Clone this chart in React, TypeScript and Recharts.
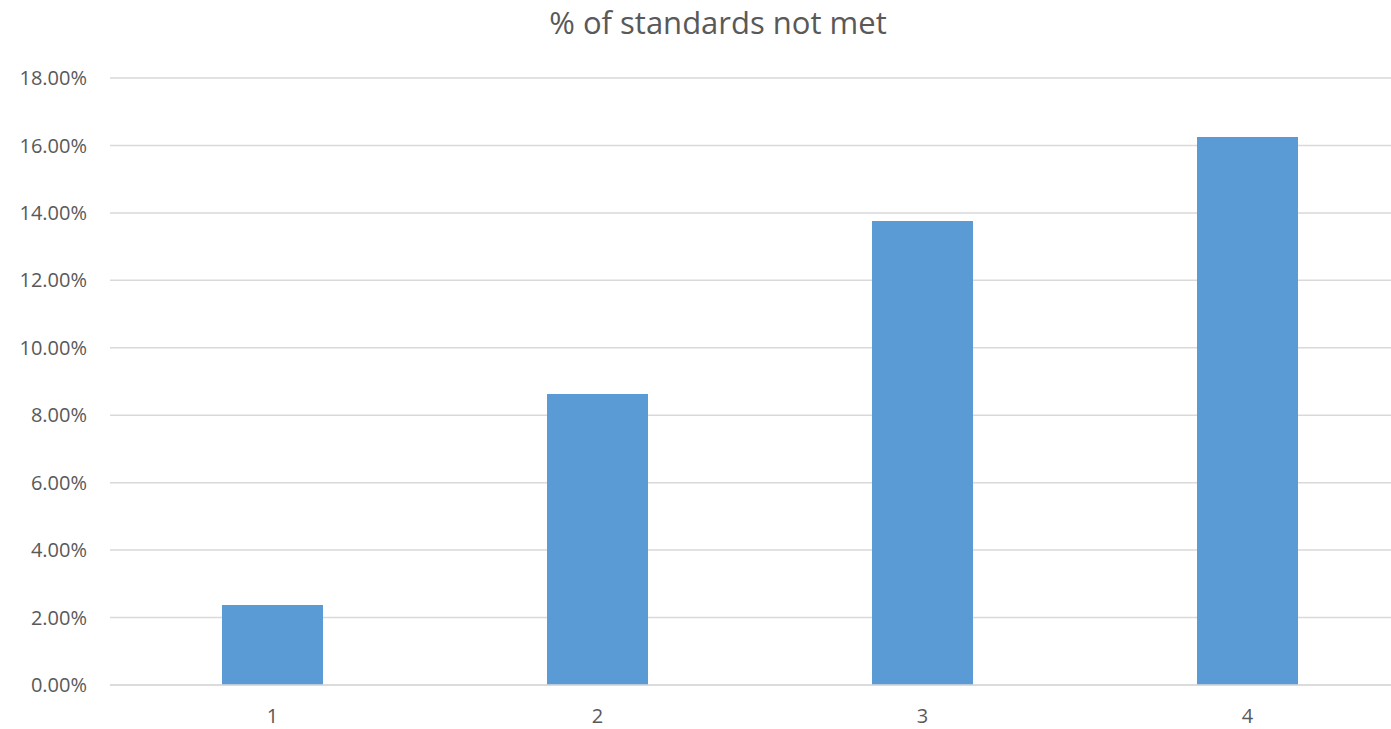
import React from "react"
import { BarChart, Bar, XAxis, YAxis, CartesianGrid } from "recharts"

const categories = ["1", "2", "3", "4"]
const notMet = [0.0237, 0.0863, 0.1376, 0.1625]
const yTicks = [0, 0.02, 0.04, 0.06, 0.08, 0.1, 0.12, 0.14, 0.16, 0.18]

const data = categories.map((name, i) => ({ name, value: notMet[i] }))

const TEXT = "#595959"
const GRID = "#D9D9D9"
const FONT = "'Open Sans', 'Noto Sans', sans-serif"

export default function App() {
  return (
    <div
      style={{
        position: "fixed",
        left: 0,
        top: 0,
        width: 1391,
        height: 729,
        overflow: "hidden",
        background: "#fff",
        fontFamily: FONT,
      }}
    >
      <div
        style={{
          position: "absolute",
          left: 0,
          width: 1436,
          top: 0,
          lineHeight: "44px",
          textAlign: "center",
          fontSize: 31,
          color: TEXT,
        }}
      >
        % of standards not met
      </div>
      <BarChart
        width={1420}
        height={729}
        data={data}
        margin={{ top: 78, right: 10, bottom: 0, left: 0 }}
      >
        <CartesianGrid vertical={false} stroke={GRID} strokeWidth={1.5} />
        <XAxis
          dataKey="name"
          tickLine={false}
          axisLine={{ stroke: GRID, strokeWidth: 1.5 }}
          tick={{ fill: TEXT, fontSize: 20, fontFamily: FONT }}
          tickMargin={18}
          height={44}
        />
        <YAxis
          width={110}
          domain={[0, 0.18]}
          ticks={yTicks}
          interval={0}
          tickLine={false}
          axisLine={false}
          tickSize={0}
          tickMargin={23}
          tickFormatter={(v: number) => (v * 100).toFixed(2) + "%"}
          tick={{ fill: TEXT, fontSize: 20, fontFamily: FONT }}
        />
        <Bar dataKey="value" fill="#5B9BD5" barSize={101} isAnimationActive={false} />
      </BarChart>
    </div>
  )
}
